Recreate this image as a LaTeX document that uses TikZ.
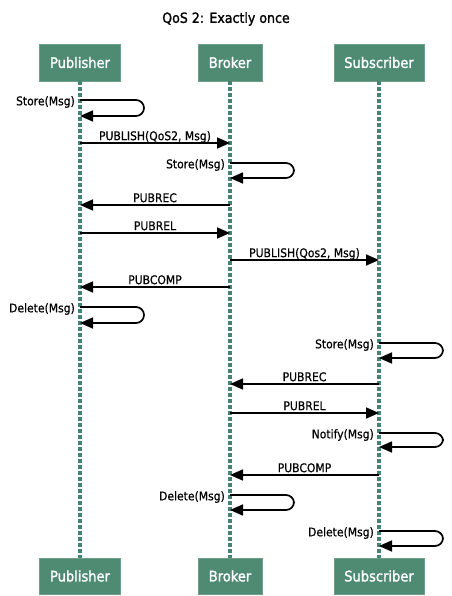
\documentclass[tikz,border=0pt]{standalone}
\usepackage{fontspec}
\setmainfont{DejaVu Sans Condensed}[FakeBold=0.6]
\newfontfamily\heavyfont{DejaVu Sans Condensed}[FakeBold=1.4]
\usetikzlibrary{arrows.meta}
\definecolor{boxgreen}{HTML}{4F8A73}
\definecolor{boxedge}{HTML}{6E9F8B}
\definecolor{lifegreen}{HTML}{428575}
\begin{document}
\begin{tikzpicture}[x=1pt,y=-1pt,
  actor/.style={fill=boxgreen, draw=boxedge, line width=0.8pt, text=white,
    inner sep=0pt, font=\heavyfont\fontsize{14.5}{16}\selectfont},
  lifeline/.style={draw=lifegreen, line width=3.2pt, dash pattern=on 3.5pt off 2.5pt},
  msg/.style={line width=1.7pt, -{Triangle[length=13pt,width=11pt]}},
  selfmsg/.style={msg, rounded corners=8pt},
  lbl/.style={font=\fontsize{12}{14}\selectfont, inner sep=0pt, text depth=0pt},
  slbl/.style={font=\fontsize{12}{14}\selectfont, inner sep=0pt},
  ]
\useasboundingbox (0,0) rectangle (451,596);
\node[font=\heavyfont\fontsize{14}{16}\selectfont] (title) at (226,19) {QoS 2: Exactly once};
% actors
\node[actor, minimum width=81pt, minimum height=37pt] (pubT) at (80,62.5) {Publisher};
\node[actor, minimum width=64pt, minimum height=37pt] (brkT) at (230,62.5) {Broker};
\node[actor, minimum width=90pt, minimum height=37pt] (subT) at (379,62.5) {Subscriber};
\node[actor, minimum width=81pt, minimum height=36pt] (pubB) at (80,576) {Publisher};
\node[actor, minimum width=64pt, minimum height=36pt] (brkB) at (230,576) {Broker};
\node[actor, minimum width=90pt, minimum height=36pt] (subB) at (379,576) {Subscriber};
% lifelines
\draw[lifeline] (pubT.south) -- (pubB.north);
\draw[lifeline] (brkT.south) -- (brkB.north);
\draw[lifeline] (subT.south) -- (subB.north);
% 1 Publisher Store(Msg)
\coordinate (s1a) at (pubT.south |- 0,100);
\coordinate (s1b) at (pubT.south |- 0,116);
\draw[selfmsg] (s1a) -- ++(64,0) |- (s1b);
\node[slbl, left=5pt, yshift=-2pt] (l1) at (s1a) {Store(Msg)};
% 2 PUBLISH(QoS2, Msg)
\coordinate (m2a) at (pubT.south |- 0,143);
\coordinate (m2b) at (brkT.south |- 0,143);
\draw[msg] (m2a) -- node[lbl, above=2pt] (l2) {PUBLISH(QoS2, Msg)} (m2b);
% 3 Broker Store(Msg)
\coordinate (s3a) at (brkT.south |- 0,163);
\coordinate (s3b) at (brkT.south |- 0,178);
\draw[selfmsg] (s3a) -- ++(64,0) |- (s3b);
\node[slbl, left=5pt, yshift=-2pt] (l3) at (s3a) {Store(Msg)};
% 4 PUBREC
\coordinate (m4a) at (brkT.south |- 0,205);
\coordinate (m4b) at (pubT.south |- 0,205);
\draw[msg] (m4a) -- node[lbl, above=2pt] (l4) {PUBREC} (m4b);
% 5 PUBREL
\coordinate (m5a) at (pubT.south |- 0,233);
\coordinate (m5b) at (brkT.south |- 0,233);
\draw[msg] (m5a) -- node[lbl, above=2pt] (l5) {PUBREL} (m5b);
% 6 PUBLISH(Qos2, Msg)
\coordinate (m6a) at (brkT.south |- 0,260);
\coordinate (m6b) at (subT.south |- 0,260);
\draw[msg] (m6a) -- node[lbl, above=2pt] (l6) {PUBLISH(Qos2, Msg)} (m6b);
% 7 PUBCOMP
\coordinate (m7a) at (brkT.south |- 0,287);
\coordinate (m7b) at (pubT.south |- 0,287);
\draw[msg] (m7a) -- node[lbl, above=2pt] (l7) {PUBCOMP} (m7b);
% 8 Publisher Delete(Msg)
\coordinate (s8a) at (pubT.south |- 0,307);
\coordinate (s8b) at (pubT.south |- 0,323);
\draw[selfmsg] (s8a) -- ++(64,0) |- (s8b);
\node[slbl, left=5pt, yshift=-2pt] (l8) at (s8a) {Delete(Msg)};
% 9 Subscriber Store(Msg)
\coordinate (s9a) at (subT.south |- 0,343);
\coordinate (s9b) at (subT.south |- 0,358);
\draw[selfmsg] (s9a) -- ++(64,0) |- (s9b);
\node[slbl, left=5pt, yshift=-2pt] (l9) at (s9a) {Store(Msg)};
% 10 PUBREC
\coordinate (m10a) at (subT.south |- 0,384);
\coordinate (m10b) at (brkT.south |- 0,384);
\draw[msg] (m10a) -- node[lbl, above=2pt] (l10) {PUBREC} (m10b);
% 11 PUBREL
\coordinate (m11a) at (brkT.south |- 0,413);
\coordinate (m11b) at (subT.south |- 0,413);
\draw[msg] (m11a) -- node[lbl, above=2pt] (l11) {PUBREL} (m11b);
% 12 Subscriber Notify(Msg)
\coordinate (s12a) at (subT.south |- 0,433);
\coordinate (s12b) at (subT.south |- 0,447);
\draw[selfmsg] (s12a) -- ++(64,0) |- (s12b);
\node[slbl, left=5pt, yshift=-2pt] (l12) at (s12a) {Notify(Msg)};
% 13 PUBCOMP
\coordinate (m13a) at (subT.south |- 0,475);
\coordinate (m13b) at (brkT.south |- 0,475);
\draw[msg] (m13a) -- node[lbl, above=2pt] (l13) {PUBCOMP} (m13b);
% 14 Broker Delete(Msg)
\coordinate (s14a) at (brkT.south |- 0,495);
\coordinate (s14b) at (brkT.south |- 0,510);
\draw[selfmsg] (s14a) -- ++(64,0) |- (s14b);
\node[slbl, left=5pt, yshift=-2pt] (l14) at (s14a) {Delete(Msg)};
% 15 Subscriber Delete(Msg)
\coordinate (s15a) at (subT.south |- 0,531);
\coordinate (s15b) at (subT.south |- 0,546);
\draw[selfmsg] (s15a) -- ++(64,0) |- (s15b);
\node[slbl, left=5pt, yshift=-2pt] (l15) at (s15a) {Delete(Msg)};
\end{tikzpicture}
\end{document}
